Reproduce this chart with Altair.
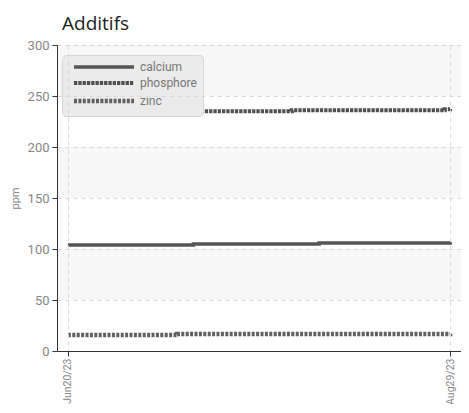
import altair as alt
import pandas as pd

# ---- data ----
series_names = ["calcium", "phosphore", "zinc"]

calcium_dates = ["2023-06-20", "2023-07-13", "2023-08-05", "2023-08-29"]
calcium_vals = [104.0, 105.0, 106.0, 107.0]

phosphore_dates = ["2023-06-20", "2023-07-14", "2023-07-31", "2023-08-28", "2023-08-29"]
phosphore_vals = [234.3, 235.0, 236.0, 237.0, 237.3]

zinc_dates = ["2023-06-20", "2023-07-10", "2023-08-29"]
zinc_vals = [15.6, 16.6, 16.8]

band_start = [50, 150, 250]
band_end = [100, 200, 300]

y_ticks = [0, 50, 100, 150, 200, 250, 300]

rows = []
for name, ds, vs in [("calcium", calcium_dates, calcium_vals),
                     ("phosphore", phosphore_dates, phosphore_vals),
                     ("zinc", zinc_dates, zinc_vals)]:
    for d, v in zip(ds, vs):
        rows.append({"date": d, "value": v, "series": name})
df = pd.DataFrame(rows)
bands = pd.DataFrame({"y0": band_start, "y1": band_end})

W, H = 404, 306
FONT = "'Liberation Sans Narrow', 'Roboto', sans-serif"

x_scale = alt.Scale(
    type="utc",
    domain=[alt.DateTime(year=2023, month=6, date=18, utc=True),
            alt.DateTime(year=2023, month=8, date=31, utc=True)],
)
y_scale = alt.Scale(domain=[0, 300], nice=False)

band_layer = alt.Chart(bands).mark_rect(color="#f7f7f7").encode(
    x=alt.value(0), x2=alt.value(W),
    y=alt.Y("y0:Q", scale=y_scale),
    y2="y1:Q",
)

lines = alt.Chart(df).mark_line(interpolate="step-after").encode(
    x=alt.X("date:T", scale=x_scale, title=None,
            axis=alt.Axis(
                values=[alt.DateTime(year=2023, month=6, date=20, utc=True),
                        alt.DateTime(year=2023, month=8, date=29, utc=True)],
                labelExpr="utcFormat(datum.value, '%b%d/%y')",
                labelAngle=270, labelAlign="right", labelBaseline="middle",
                labelPadding=2, labelOverlap=False,
                grid=True, gridDash=[4, 4], gridColor="#d8d8d8",
                domainColor="#333", tickColor="#333", tickSize=5,
                labelColor="#888", labelFont=FONT, labelFontSize=10.5,
                zindex=1)),
    y=alt.Y("value:Q", scale=y_scale, title="ppm",
            axis=alt.Axis(
                values=y_ticks, grid=True, gridDash=[4, 4], gridColor="#d8d8d8",
                domainColor="#333", tickColor="#333", tickSize=5,
                labelColor="#888", labelFont=FONT, labelFontSize=13,
                labelPadding=3,
                titleColor="#888", titleFont=FONT, titleFontSize=11,
                titleFontWeight="normal", titleX=-37, titleY=H / 2,
                zindex=1)),
    color=alt.Color("series:N",
                    scale=alt.Scale(domain=series_names, range=["#555555", "#505050", "#606060"]),
                    legend=alt.Legend(
                        title=None, orient="none", legendX=5, legendY=10,
                        fillColor="#ebebeb", strokeColor="#d6d6d6", cornerRadius=4,
                        padding=6, symbolType="M0,0H20", symbolSize=36,
                        labelColor="#777", labelFont=FONT, labelFontSize=12,
                        labelOffset=60, rowPadding=1, labelLimit=200)),
    strokeDash=alt.StrokeDash("series:N",
                              scale=alt.Scale(domain=series_names,
                                              range=[[1, 0], [3.3, 1], [3, 1.4]])),
    strokeWidth=alt.StrokeWidth("series:N",
                                scale=alt.Scale(domain=series_names, range=[3.5, 4.5, 2.8])),
)

chart = alt.layer(band_layer, lines).properties(
    width=W, height=H,
    title=alt.TitleParams("Additifs", anchor="start", frame="group", dx=5, fontSize=19,
                          font="Open Sans", fontWeight="normal", color="#222", offset=5),
    autosize=alt.AutoSizeParams(type="none"),
    padding={"left": 49, "top": 37, "right": 0, "bottom": 53},
).configure_view(stroke=None)

chart.save("out.html", embed_options={"renderer": "svg", "actions": False})
